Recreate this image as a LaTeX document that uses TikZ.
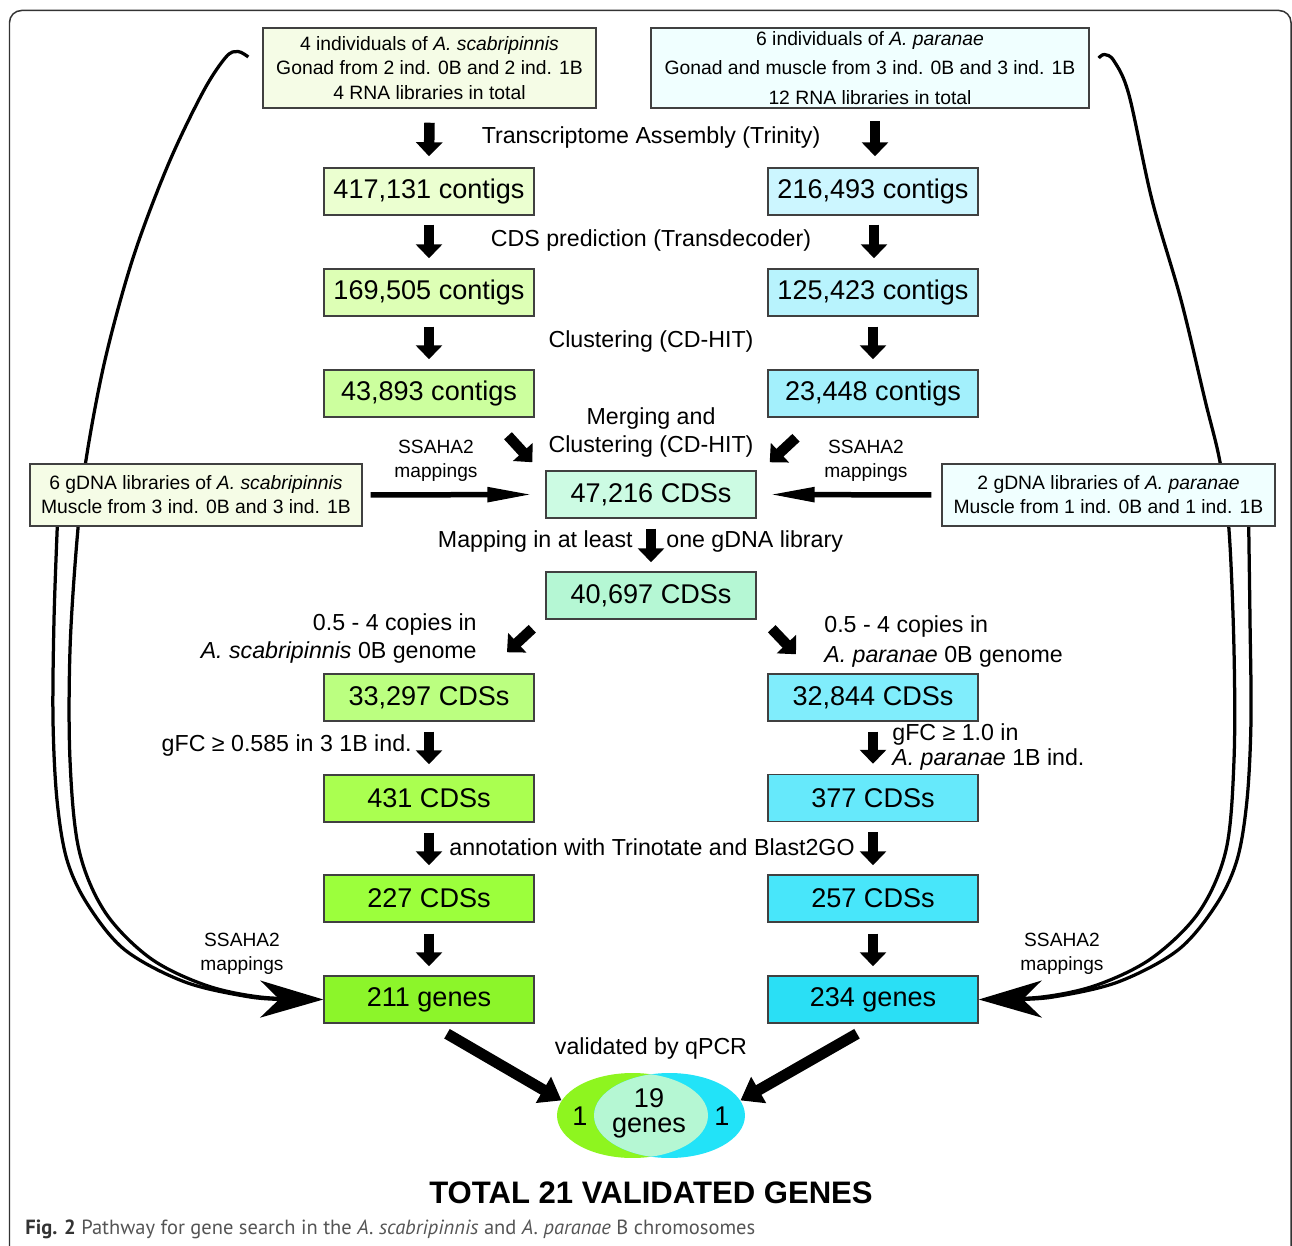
\documentclass[tikz,border=0pt]{standalone}
\usepackage{fontspec}
\setmainfont{Liberation Sans}
\newfontfamily\capfont{PT Sans}
\usetikzlibrary{arrows.meta,shapes.geometric,backgrounds}
\definecolor{bordc}{HTML}{404040}
\definecolor{framec}{HTML}{333333}
\definecolor{lgz}{HTML}{F5FCE6}
\definecolor{lga}{HTML}{EBFFD0}
\definecolor{lgb}{HTML}{DDFFB5}
\definecolor{lgc}{HTML}{CCFF9E}
\definecolor{lgd}{HTML}{BBFF80}
\definecolor{lge}{HTML}{AAFF50}
\definecolor{lgf}{HTML}{9CFF3C}
\definecolor{lgg}{HTML}{8CF52A}
\definecolor{cyz}{HTML}{F0FFFF}
\definecolor{cya}{HTML}{CCF6FF}
\definecolor{cyb}{HTML}{B8F3FD}
\definecolor{cyc}{HTML}{A3F0FC}
\definecolor{cyd}{HTML}{80EDFC}
\definecolor{cye}{HTML}{66E9FB}
\definecolor{cyf}{HTML}{48E6FA}
\definecolor{cyg}{HTML}{2ADFF5}
\definecolor{mda}{HTML}{CCFBE3}
\definecolor{mdb}{HTML}{B5F7D4}
\definecolor{vgreen}{HTML}{8EF51F}
\definecolor{vcyan}{HTML}{22E3F8}
\definecolor{vmint}{HTML}{B5F7D3}
\definecolor{capgray}{HTML}{555555}
\definecolor{capdark}{HTML}{333333}
\begin{document}
\begin{tikzpicture}[x=0.02cm,y=-0.02cm,
  box/.style={draw=bordc,line width=0.03cm,minimum width=4.2cm,minimum height=0.94cm,inner sep=0pt,font=\fontsize{15.4}{18}\selectfont},
  info/.style={draw=bordc,line width=0.03cm,inner sep=0pt,align=center,font=\fontsize{11}{13.9}\selectfont},
  lbl/.style={inner sep=0pt,font=\fontsize{13.2}{16.4}\selectfont},
  sml/.style={inner sep=0pt,align=center,font=\fontsize{10.9}{13.6}\selectfont},
  dnarrow/.style={line width=0.21cm,-{Triangle[length=0.28cm,width=0.52cm]}},
  harrow/.style={line width=0.11cm,-{Triangle[length=0.9cm,width=0.28cm]}},
  bigarrow/.style={line width=0.22cm,-{Triangle[length=0.42cm,width=0.58cm]}},
  curve/.style={line width=0.065cm},
  curvetip/.style={curve,-{Stealth[length=1.26cm,width=0.74cm,inset=0.38cm]}},
]
\useasboundingbox (0,0) rectangle (1292,1246);
\draw[framec,line width=0.03cm,rounded corners=0.24cm] (9.5,1250) -- (9.5,10.5) -- (1291,10.5) -- (1291,1250);

% top info boxes
\node[info,fill=lgz,minimum width=6.66cm,minimum height=1.6cm] (tl) at (429.5,68)
 {4 individuals of \textit{A. scabripinnis}\\Gonad from 2 ind. 0B and 2 ind. 1B\\4 RNA libraries in total};
\node[info,fill=cyz,minimum width=8.76cm,minimum height=1.6cm,font=\fontsize{11}{16.7}\selectfont] (tr) at (870,68)
 {6 individuals of \textit{A. paranae}\\Gonad and muscle from 3 ind. 0B and 3 ind. 1B\\12 RNA libraries in total};

% gDNA boxes
\node[info,fill=lgz,minimum width=6.64cm,minimum height=1.24cm,font=\fontsize{11}{13.6}\selectfont] (gl) at (196,495)
 {6 gDNA libraries of \textit{A. scabripinnis}\\Muscle from 3 ind. 0B and 3 ind. 1B};
\node[info,fill=cyz,minimum width=6.66cm,minimum height=1.24cm,font=\fontsize{11}{13.6}\selectfont] (gr) at (1108.5,495)
 {2 gDNA libraries of \textit{A. paranae}\\Muscle from 1 ind. 0B and 1 ind. 1B};

% left column
\node[box,fill=lga] (L1) at (429,191.5) {417,131 contigs};
\node[box,fill=lgb] (L2) at (429,292.5) {169,505 contigs};
\node[box,fill=lgc] (L3) at (429,393.5) {43,893 contigs};
\node[box,fill=lgd] (L4) at (429,697.5) {33,297 CDSs};
\node[box,fill=lge] (L5) at (429,798.5) {431 CDSs};
\node[box,fill=lgf] (L6) at (429,898.5) {227 CDSs};
\node[box,fill=lgg] (L7) at (429,999.5) {211 genes};
% right column
\node[box,fill=cya] (R1) at (873,191.5) {216,493 contigs};
\node[box,fill=cyb] (R2) at (873,292.5) {125,423 contigs};
\node[box,fill=cyc] (R3) at (873,393.5) {23,448 contigs};
\node[box,fill=cyd] (R4) at (873,697.5) {32,844 CDSs};
\node[box,fill=cye] (R5) at (873,798) {377 CDSs};
\node[box,fill=cyf] (R6) at (873,898.5) {257 CDSs};
\node[box,fill=cyg] (R7) at (873,999.5) {234 genes};
% middle
\node[box,fill=mda] (M1) at (651,494.5) {47,216 CDSs};
\node[box,fill=mdb] (M2) at (651,595.5) {40,697 CDSs};

% venn
\node[ellipse,minimum width=3.02cm,minimum height=1.7cm,inner sep=0pt,fill=vgreen] (vg) at (632.5,1115.5) {};
\node[ellipse,minimum width=3.02cm,minimum height=1.7cm,inner sep=0pt,fill=vcyan] (vc) at (669.5,1115.5) {};
\begin{scope}
\clip (632.5,1115.5) ellipse [x radius=75.5,y radius=42.5];
\fill[vmint] (669.5,1115.5) ellipse [x radius=75.5,y radius=42.5];
\end{scope}
\node[inner sep=0pt,font=\fontsize{15.4}{18}\selectfont] (v1) at (580,1116) {1};
\node[inner sep=0pt,font=\fontsize{15.4}{18}\selectfont] (v2) at (722,1116) {1};
\node[inner sep=0pt,align=center,font=\fontsize{15.4}{14.2}\selectfont] (v19) at (649,1113) {19\\genes};

% labels
\node[lbl] (t1) at (651,138) {Transcriptome Assembly (Trinity)};
\node[lbl] (t2) at (651,241) {CDS prediction (Transdecoder)};
\node[lbl] (t3) at (651,342) {Clustering (CD-HIT)};
\node[lbl,align=center] (t4) at (651,432.5) {Merging and\\Clustering (CD-HIT)};
\node[lbl,anchor=east] (t5a) at (633,542) {Mapping in at least};
\node[lbl,anchor=west] (t5b) at (666,542) {one gDNA library};
\node[lbl,anchor=east,align=right] (t6) at (477,638.5) {0.5 - 4 copies in\\\textit{A. scabripinnis} 0B genome};
\node[lbl,anchor=west,align=left,font=\fontsize{13.2}{17.5}\selectfont] (t7) at (824,641.5) {0.5 - 4 copies in\\\textit{A. paranae} 0B genome};
\node[lbl,anchor=east] (t8) at (412,746) {gFC ≥ 0.585 in 3 1B ind.};
\node[lbl,anchor=west,align=left,font=\fontsize{13.2}{14.7}\selectfont] (t9) at (892,747) {gFC ≥ 1.0 in\\\textit{A. paranae} 1B ind.};
\node[lbl] (t10) at (652,847) {annotation with Trinotate and Blast2GO};
\node[lbl] (t11) at (651,1049) {validated by qPCR};
\node[sml] (s1) at (436,461) {SSAHA2\\mappings};
\node[sml] (s2) at (866,461) {SSAHA2\\mappings};
\node[sml] (s3) at (242,954) {SSAHA2\\mappings};
\node[sml] (s4) at (1062,954) {SSAHA2\\mappings};
\node[inner sep=0pt,font=\bfseries\fontsize{17.7}{20}\selectfont] (tot) at (651,1193) {TOTAL 21 VALIDATED GENES};
\node[anchor=west,inner sep=0pt,text=capgray,font=\capfont\fontsize{11.67}{13}\selectfont] (cap) at (25,1229)
 {\textbf{\color{capdark}Fig. 2} Pathway for gene search in the \textit{A. scabripinnis} and \textit{A. paranae} B chromosomes};

% straight arrows
\draw[dnarrow] ([shift={(0,14)}]tl.south) -- ([shift={(0,-11)}]L1.north);
\draw[dnarrow] ([shift={(2,-46)}]R1.north) -- ([shift={(2,-11)}]R1.north);
\draw[dnarrow] ([shift={(0,9)}]L1.south) -- ([shift={(0,-10)}]L2.north);
\draw[dnarrow] ([shift={(1,9)}]R1.south) -- ([shift={(1,-10)}]R2.north);
\draw[dnarrow] ([shift={(0,10)}]L2.south) -- ([shift={(0,-10)}]L3.north);
\draw[dnarrow] ([shift={(0,10)}]R2.south) -- ([shift={(0,-10)}]R3.north);
\draw[dnarrow] ([shift={(79,18)}]L3.south) -- ([shift={(-13,-8)}]M1.north west);
\draw[dnarrow] ([shift={(-77,20)}]R3.south) -- ([shift={(13,-8)}]M1.north east);
\draw[harrow] ([shift={(8,0)}]gl.east) -- ([shift={(-13,0)}]M1.west);
\draw[harrow] ([shift={(-10,0)}]gr.west) -- ([shift={(13,0)}]M1.east);
\draw[dnarrow] ([shift={(0,10)}]M1.south) -- ([shift={(0,-9)}]M2.north);
\draw[dnarrow] ([shift={(-13,9)}]M2.south west) -- ([shift={(78,-21)}]L4.north);
\draw[dnarrow] ([shift={(15,9)}]M2.south east) -- ([shift={(-77,-19)}]R4.north);
\draw[dnarrow] ([shift={(0,10)}]L4.south) -- ([shift={(0,-10)}]L5.north);
\draw[dnarrow] ([shift={(0,10)}]R4.south) -- ([shift={(0,-10)}]R5.north);
\draw[dnarrow] ([shift={(0,10)}]L5.south) -- ([shift={(0,-9)}]L6.north);
\draw[dnarrow] ([shift={(0,10)}]R5.south) -- ([shift={(0,-9)}]R6.north);
\draw[dnarrow] ([shift={(0,11)}]L6.south) -- ([shift={(0,-9)}]L7.north);
\draw[dnarrow] ([shift={(0,11)}]R6.south) -- ([shift={(0,-9)}]R7.north);
\draw[bigarrow] ([shift={(18,10)}]L7.south) -- (vg.168);
\draw[bigarrow] ([shift={(-16,10)}]R7.south) -- (vc.12);

% curved connectors
\coordinate (hkL) at ([shift={(-14,-11)}]tl.west);
\coordinate (hkR) at ([shift={(9,-10)}]tr.east);
\coordinate (oL) at ([shift={(28,0)}]gl.south west);
\coordinate (oR) at ([shift={(-27,0)}]gr.south east);
\coordinate (oLend) at ([shift={(-34,0)}]L7.west);
\coordinate (oRend) at ([shift={(34,0)}]R7.east);
\begin{scope}[on background layer]
\draw[curvetip] plot[smooth,tension=0.55] coordinates {(hkL) (238,51.5) (226,57) (203,92) (168,165) (133,258) (105,360) (86,460) (77,540) (70,650) (70,760) (79,850) (105,912) (150,958) (205,985) (260,997) (L7.west)};
\draw[curve] plot[smooth,tension=0.55] coordinates {(oL) (54,620) (53,720) (57,800) (67,860) (88,905) (125,950) (185,982) (250,997) (oLend)};
\draw[curvetip] plot[smooth,tension=0.55] coordinates {(hkR) (1104.5,54.5) (1114,61) (1129,95) (1152,200) (1181,300) (1205,400) (1220,462) (1229,530) (1234,650) (1234,760) (1226,850) (1199,912) (1152,958) (1097,985) (1042,997) (R7.east)};
\draw[curve] plot[smooth,tension=0.55] coordinates {(oR) (1250,620) (1251,720) (1247,800) (1237,860) (1216,905) (1178,950) (1118,982) (1053,997) (oRend)};
\end{scope}
\end{tikzpicture}
\end{document}
